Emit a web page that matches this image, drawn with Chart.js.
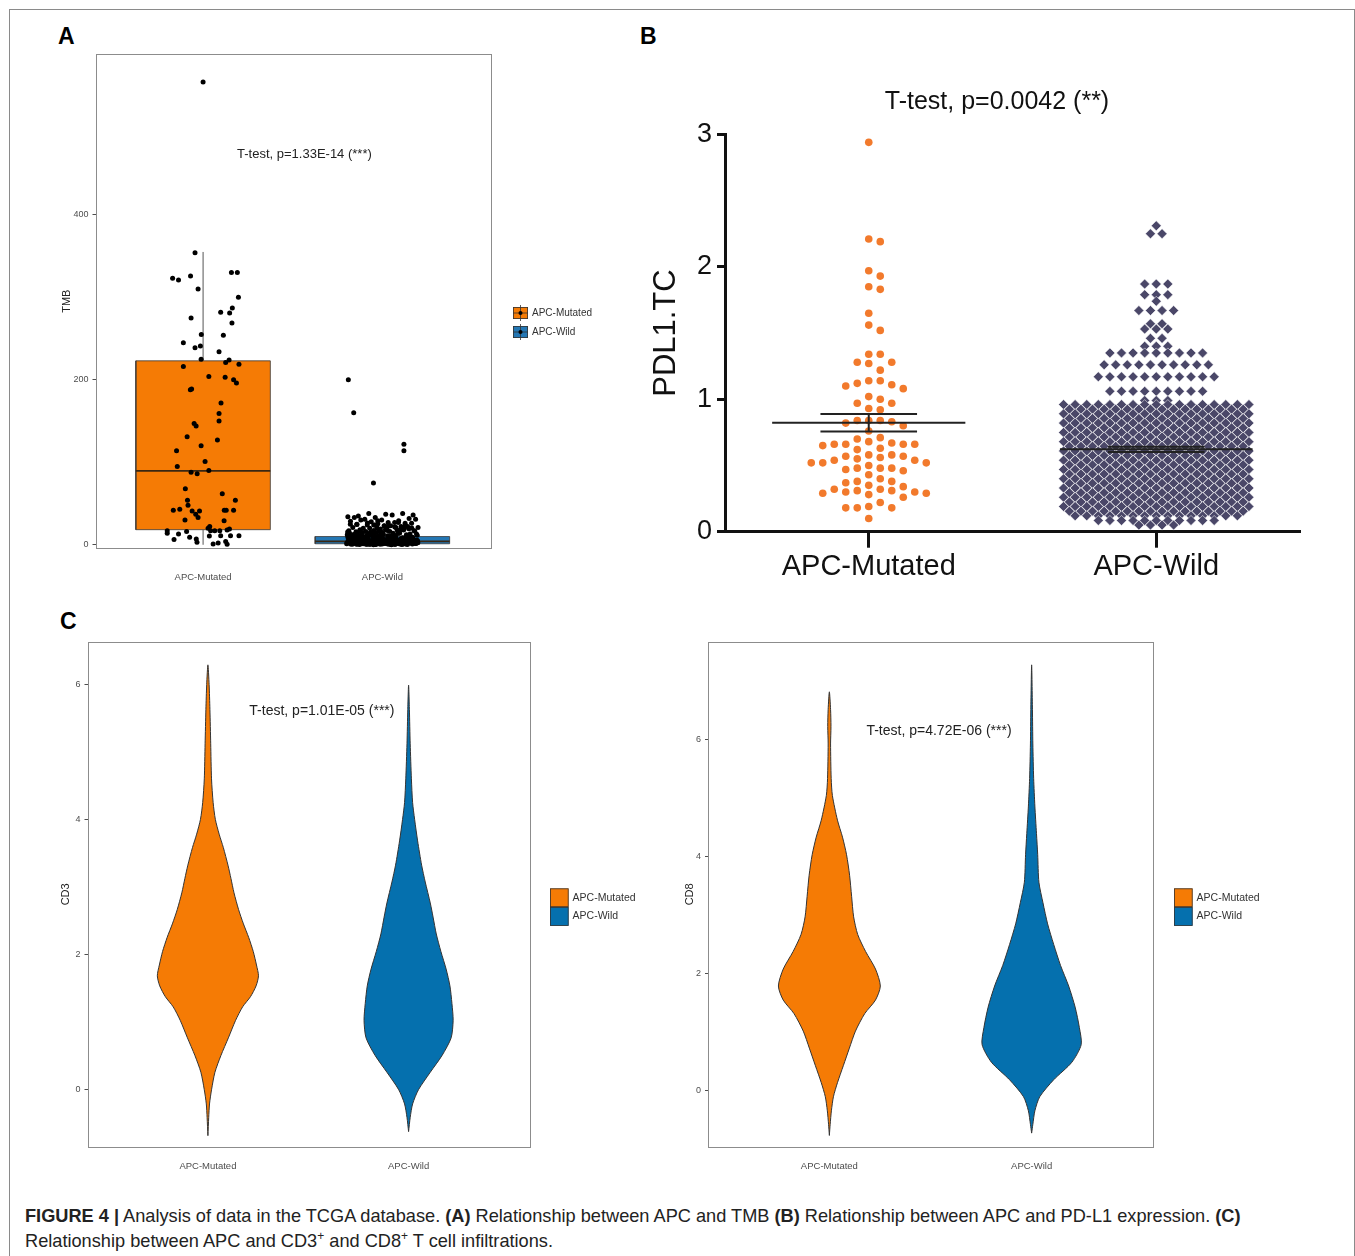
<!DOCTYPE html>
<html>
<head>
<meta charset="utf-8">
<script src="https://cdn.jsdelivr.net/npm/chart.js@4.4.1/dist/chart.umd.min.js"></script>
<style>
  html, body { margin: 0; padding: 0; background: #fff; width: 1355px; height: 1256px; overflow: hidden;
    font-family: "Liberation Sans", Arial, Helvetica, sans-serif; }
  .frame { position: absolute; left: 9px; top: 9px; width: 1346px; height: 1300px; box-sizing: border-box;
    border: 1px solid #8a8a8a; border-bottom: none; }
  canvas { position: absolute; }
  .lett { position: absolute; font-weight: bold; font-size: 23px; line-height: 1; color: #000; }
  .cap { position: absolute; left: 25px; top: 1204px; width: 1320px; font-size: 18.2px; line-height: 25px; color: #222; white-space: nowrap; }
  .cap sup { font-size: 12px; line-height: 0; vertical-align: 7px; }
</style>
</head>
<body>
<div class="frame"></div>
<div class="lett" style="left:58px;top:25px">A</div>
<div class="lett" style="left:640px;top:25px">B</div>
<div class="lett" style="left:60px;top:610px">C</div>

<canvas id="cA" width="580" height="560" style="left:40px;top:40px"></canvas>
<canvas id="cB" width="700" height="560" style="left:620px;top:40px"></canvas>
<canvas id="cC1" width="610" height="560" style="left:40px;top:630px"></canvas>
<canvas id="cC2" width="640" height="560" style="left:660px;top:630px"></canvas>

<div class="cap"><b>FIGURE 4 |</b> Analysis of data in the TCGA database. <b>(A)</b> Relationship between APC and TMB <b>(B)</b> Relationship between APC and PD-L1 expression. <b>(C)</b><br>Relationship between APC and CD3<sup>+</sup> and CD8<sup>+</sup> T cell infiltrations.</div>

<script>
// ---- data ----
const groups = ['APC-Mutated', 'APC-Wild'];

// A: TMB, jittered points as [jitter, value]; box stats [lower, q1, median, q3, upper]
const tmbTicks = [0, 200, 400];
const tmbMutBox = [0, 18.3, 89.6, 223, 355];
const tmbWildBox = [0, 1.2, 4, 10, 24];
const tmbMutPoints = [
  [0, 561], [-0.045, 354], [-0.17, 323], [-0.137, 321], [-0.07, 326], [-0.028, 310], [0.158, 330], [0.191, 330],
  [0.197, 300], [0.163, 287], [0.098, 282], [0.148, 281], [-0.067, 275], [0.161, 269], [-0.01, 255], [0.113, 254],
  [-0.11, 245], [-0.045, 239], [-0.015, 241], [0.089, 234], [-0.011, 225], [0.126, 221], [0.145, 224], [0.2, 219],
  [-0.11, 216], [0.032, 204], [0.123, 203], [0.17, 200], [0.186, 196], [-0.071, 188], [-0.064, 189], [0.1, 172],
  [0.089, 159], [0.089, 150], [-0.05, 147], [-0.039, 144], [-0.089, 131], [0.08, 127], [-0.011, 120], [-0.148, 114],
  [0.011, 101], [-0.144, 95], [0.032, 90], [-0.067, 88], [-0.033, 86], [-0.099, 68], [0.107, 62], [0.18, 54],
  [-0.087, 54], [-0.084, 48], [-0.166, 42], [-0.13, 43], [-0.061, 41], [-0.02, 41], [-0.041, 37], [-0.028, 33],
  [-0.101, 30], [0.118, 42], [0.129, 42], [0.17, 42], [0.117, 29], [0.037, 22], [-0.2, 17], [-0.2, 14],
  [-0.137, 13], [-0.092, 16], [-0.075, 9], [-0.162, 6.5], [-0.038, 7], [-0.034, 3], [0.028, 20], [0.042, 17],
  [0.065, 17], [0.093, 17], [0.134, 18], [0.147, 19], [0.035, 10.5], [0.098, 11], [0.153, 11], [0.2, 11],
  [0.056, 1], [0.084, 2], [0.126, 4], [0.134, 0.7]
];
const tmbWildOutliers = [[-0.19, 200], [-0.16, 160], [0.12, 122], [0.12, 114], [-0.05, 75]];
const tmbWildMass = [
  38, 36, 37, 35, 38, 33, 34, 36, 31, 32, 30, 33, 29, 28, 31, 27, 30, 26, 29, 25,
  27, 24, 26, 23, 25, 22, 24, 21, 23, 20, 22, 19, 21, 18, 20, 17, 19, 16, 18, 15,
  17, 14, 16, 13, 15, 12, 14, 11, 13, 10, 12, 9, 11, 8, 10, 7, 9, 6, 8, 5,
  14, 12, 10, 9, 8, 7, 6, 5, 4, 3, 11, 9, 8, 7, 6, 5, 4, 3, 2, 1,
  7, 6, 5, 4, 3, 2, 1, 0.5, 6, 5, 4, 3, 2, 1, 0.5, 5, 4, 3, 2, 1,
  4.5, 3.5, 2.5, 1.5, 0.8, 4, 3, 2, 1, 0.3, 3.5, 2.5, 1.5, 0.6, 3, 2, 1.2, 0.4, 2.8, 1.8,
  0.9, 2.2, 1.4, 0.7, 1.9, 1.1, 0.2, 1.6, 0.8, 2.4, 1.3, 0.5, 3.2, 2.6, 1.7, 0.9, 4.2, 5.5, 6.5, 7.5,
  12, 16, 9.5, 21, 13.5, 7, 18.5, 11.5, 8.5, 24, 15.5, 10.5, 6.5, 19.5, 13, 9, 27, 14.5, 5.5, 22.5,
  2.1, 3.1, 4.1, 5.1, 1.1, 0.6, 2.6, 3.6, 4.6, 1.6, 0.1, 2.3, 3.3, 1.3, 0.4, 2.9, 3.9, 1.9, 0.7, 4.9,
  6.2, 7.2, 8.2, 9.2, 10.2, 11.2, 6.8, 7.8, 8.8, 9.8, 5.8, 4.8, 3.8, 2.8, 1.8, 0.8, 5.2, 6.6, 7.4, 8.6,
  1.05, 2.05, 3.05, 0.35, 1.45, 2.45, 0.15, 1.75, 2.75, 3.45,
  12.5, 13.8, 15.2, 16.6, 17.4, 18.2, 19.8, 20.6, 14.2, 11.8, 10.8, 9.3, 12.9, 15.9, 17.8, 13.2, 11.4, 16.2, 14.8, 10.4,
  8.1, 7.1, 6.1, 5.3, 4.3, 3.3, 2.3, 1.3, 0.3, 9.1, 8.4, 7.6, 6.4, 5.6, 4.4, 3.6, 2.7, 1.7, 0.9, 9.6,
  23.5, 25.5, 28.5, 21.5, 26.5, 20.2, 22.8, 24.6, 19.2, 17.2
];

// B: PDL1.TC
const pdlTicks = [0, 1, 2, 3];
const pdlMut = [
  2.94, 2.21, 2.19, 1.97, 1.93, 1.85, 1.83, 1.65, 1.56, 1.52, 1.34, 1.34, 1.28, 1.27, 1.28, 1.22,
  1.14, 1.12, 1.10, 1.11, 1.08, 1.14, 1.02, 0.97, 1.00, 0.97, 0.92, 0.93, 0.84, 0.82, 0.84, 0.83,
  0.84, 0.80, 0.76, 0.70, 0.67, 0.68, 0.71, 0.66, 0.65, 0.63, 0.66, 0.66, 0.66, 0.62, 0.56, 0.54,
  0.52, 0.58, 0.57, 0.57, 0.58, 0.50, 0.52, 0.54, 0.55, 0.47, 0.52, 0.48, 0.48, 0.48, 0.46, 0.43,
  0.38, 0.38, 0.40, 0.35, 0.32, 0.31, 0.30, 0.29, 0.28, 0.29, 0.26, 0.30, 0.31, 0.32, 0.34, 0.37,
  0.22, 0.18, 0.19, 0.18, 0.18, 0.10
];
// wild group: rows of the swarm as [value, number of points]
const pdlWildRows = [
  [2.31, 1], [2.25, 2], [1.87, 3], [1.79, 3], [1.74, 1], [1.67, 4], [1.57, 2], [1.53, 3], [1.46, 2], [1.40, 3],
  [1.35, 9], [1.26, 10], [1.17, 11], [1.06, 9], [0.99, 3],
  [0.96, 17], [0.925, 16], [0.89, 17], [0.855, 16], [0.82, 17], [0.785, 16], [0.75, 17], [0.715, 16],
  [0.68, 17], [0.645, 16], [0.61, 17], [0.575, 16], [0.54, 17], [0.505, 16], [0.47, 17], [0.435, 16],
  [0.40, 17], [0.365, 16], [0.33, 17], [0.295, 16], [0.26, 17], [0.225, 16], [0.19, 17], [0.155, 16],
  [0.12, 15], [0.085, 11], [0.05, 4]
];
const pdlMutMean = 0.823, pdlMutSem = 0.066;
const pdlWildMean = 0.622, pdlWildSem = 0.02;

// C: violin outlines, levels (bottom to top) and half widths in category units
const cdTicks = [0, 2, 4, 6];
const cd3MutLevels = [-0.69, -0.42, -0.22, -0.01, 0.25, 0.5, 0.76, 1.02, 1.22, 1.37, 1.53, 1.68, 1.84, 2.04, 2.25, 2.45, 2.66, 2.91, 3.12, 3.32, 3.58, 3.78, 4.0, 4.25, 4.6, 5.12, 5.63, 6.0, 6.29];
const cd3MutWidth  = [0, 0.004, 0.008, 0.018, 0.035, 0.065, 0.102, 0.138, 0.173, 0.212, 0.24, 0.252, 0.242, 0.226, 0.203, 0.177, 0.153, 0.13, 0.115, 0.1, 0.077, 0.056, 0.037, 0.026, 0.018, 0.014, 0.01, 0.006, 0];
const cd3WildLevels = [-0.63, -0.42, -0.22, -0.01, 0.25, 0.5, 0.76, 1.02, 1.27, 1.53, 1.78, 2.04, 2.3, 2.55, 2.76, 3.07, 3.32, 3.68, 4.0, 4.25, 4.6, 5.12, 5.63, 5.99];
const cd3WildWidth  = [0, 0.008, 0.02, 0.049, 0.108, 0.167, 0.212, 0.222, 0.216, 0.206, 0.187, 0.161, 0.138, 0.122, 0.108, 0.083, 0.065, 0.045, 0.03, 0.02, 0.014, 0.008, 0.004, 0];
const cd8MutLevels = [-0.76, -0.57, -0.34, -0.1, 0.14, 0.43, 0.73, 1.02, 1.32, 1.55, 1.79, 2.08, 2.38, 2.67, 2.97, 3.32, 3.68, 4.03, 4.33, 4.62, 5.04, 5.33, 5.92, 6.22, 6.51, 6.81];
const cd8MutWidth  = [0, 0.004, 0.01, 0.02, 0.04, 0.069, 0.099, 0.129, 0.175, 0.228, 0.252, 0.228, 0.179, 0.14, 0.12, 0.11, 0.1, 0.085, 0.065, 0.04, 0.015, 0.009, 0.006, 0.008, 0.006, 0];
const cd8WildLevels = [-0.72, -0.57, -0.34, -0.1, 0.19, 0.49, 0.79, 1.08, 1.43, 1.79, 2.14, 2.5, 2.85, 3.21, 3.56, 4.03, 4.39, 4.86, 5.33, 5.92, 6.51, 7.27];
const cd8WildWidth  = [0, 0.006, 0.016, 0.04, 0.109, 0.199, 0.245, 0.236, 0.215, 0.183, 0.143, 0.109, 0.079, 0.056, 0.036, 0.03, 0.024, 0.016, 0.01, 0.006, 0.004, 0];

const stats = {
  tmb: 'T-test, p=1.33E-14 (***)',
  pdl: 'T-test, p=0.0042 (**)',
  cd3: 'T-test, p=1.01E-05 (***)',
  cd8: 'T-test, p=4.72E-06 (***)'
};

// ---- styling ----
const FONT = '"Liberation Sans", Arial, Helvetica, sans-serif';
Chart.defaults.font.family = FONT;
const orange = '#f57b05', blue = '#0570ae', boxBlue = '#2477b4';
const ptOrange = '#f27a2c', ptSlate = '#4a4768';
const axisGray = '#4d4d4d';

// ---- small plugins ----
const framePlugin = {
  id: 'frame',
  afterDraw(chart, args, o) {
    if (!o.color) return;
    const { ctx, chartArea: a } = chart;
    ctx.save();
    ctx.strokeStyle = o.color;
    ctx.lineWidth = 1;
    ctx.strokeRect(Math.round(a.left) + 0.5, Math.round(a.top) + 0.5, Math.round(a.right - a.left), Math.round(a.bottom - a.top));
    ctx.restore();
  }
};

const statTextPlugin = {
  id: 'statText',
  afterDraw(chart, args, o) {
    if (!o.text) return;
    const { ctx, scales } = chart;
    ctx.save();
    ctx.font = o.size + 'px ' + FONT;
    ctx.fillStyle = o.color;
    ctx.textAlign = 'center';
    ctx.textBaseline = 'middle';
    ctx.fillText(o.text, scales.x.getPixelForValue(o.x), scales.y.getPixelForValue(o.y));
    ctx.restore();
  }
};

const keyLegendPlugin = {
  id: 'keyLegend',
  afterDraw(chart, args, o) {
    if (!o.labels) return;
    const { ctx, chartArea: a } = chart;
    ctx.save();
    ctx.font = o.size + 'px ' + FONT;
    ctx.textBaseline = 'middle';
    ctx.textAlign = 'left';
    o.labels.forEach((label, i) => {
      const x = a.right + o.dx, y = a.top + o.dy + i * o.pitch;
      ctx.fillStyle = o.colors[i];
      ctx.fillRect(x, y, o.w, o.h);
      ctx.strokeStyle = '#333';
      ctx.lineWidth = 0.8;
      ctx.strokeRect(x + 0.4, y + 0.4, o.w - 0.8, o.h - 0.8);
      if (o.boxGlyph) {
        ctx.beginPath();
        ctx.moveTo(x + o.w / 2, y - 2); ctx.lineTo(x + o.w / 2, y + o.h + 2);
        ctx.moveTo(x, y + o.h / 2); ctx.lineTo(x + o.w, y + o.h / 2);
        ctx.stroke();
        ctx.fillStyle = '#000';
        ctx.beginPath(); ctx.arc(x + o.w / 2, y + o.h / 2, 2, 0, Math.PI * 2); ctx.fill();
      }
      ctx.fillStyle = o.textColor;
      ctx.fillText(label, x + o.w + o.gap, y + o.h / 2);
    });
    ctx.restore();
  }
};

// ---- helpers ----
const setTicks = vals => axis => { axis.ticks = vals.map(v => ({ value: v })); };
const groupLabel = v => groups[Math.round(v) - 1];

function seg(points, color, width, order) {
  return { data: points, showLine: true, borderColor: color, borderWidth: width, pointRadius: 0, fill: false, order };
}

function boxDatasets(center, s, fillColor) {
  const [lo, q1, med, q3, hi] = s, hw = 0.375;
  return [
    { data: [{ x: center - hw, y: q1 }, { x: center + hw, y: q1 }, { x: center + hw, y: q3 }, { x: center - hw, y: q3 }, { x: center - hw, y: q1 }],
      showLine: true, fill: 'shape', backgroundColor: fillColor, borderColor: '#3a3a3a', borderWidth: 0.8, pointRadius: 0, order: 3 },
    seg([{ x: center, y: q3 }, { x: center, y: hi }], '#555', 1, 2),
    seg([{ x: center, y: lo }, { x: center, y: q1 }], '#555', 1, 2),
    seg([{ x: center - hw, y: med }, { x: center + hw, y: med }], '#3a2712', 1.8, 1)
  ];
}

function violin(center, levels, widths, color) {
  const right = levels.map((y, i) => ({ x: center + widths[i], y }));
  const left = levels.map((y, i) => ({ x: center - widths[i], y })).reverse();
  return { data: right.concat(left.slice(1)), showLine: true, fill: 'shape', backgroundColor: color,
    borderColor: '#333', borderWidth: 1, pointRadius: 0, tension: 0.25 };
}

// simple beeswarm: column offsets so that dots in one column do not touch
function beeswarm(values, minGap, colW) {
  const sorted = values.slice().sort((a, b) => b - a);
  const placed = [];
  sorted.forEach(v => {
    for (let n = 0; n < 40; n++) {
      const k = n === 0 ? 0 : (n % 2 ? (n + 1) / 2 : -n / 2);
      if (!placed.some(p => p.k === k && Math.abs(p.v - v) < minGap)) { placed.push({ k, v }); break; }
    }
  });
  return placed.map(p => ({ x: 1 + p.k * colW, y: p.v }));
}

function rowSwarm(rows, center, colW) {
  const pts = [];
  rows.forEach(([v, n]) => {
    for (let i = 0; i < n; i++) pts.push({ x: center + (i - (n - 1) / 2) * colW, y: v });
  });
  return pts;
}

// ggplot-like jitter spread for the dense wild TMB cloud (low-discrepancy, width 0.2)
const jitter = i => ((i * 0.6180339887 + 0.31) % 1) * 0.4 - 0.2;

function ggAxisX(pad) {
  return {
    type: 'linear', min: 0.4, max: 2.6,
    afterBuildTicks: setTicks([1, 2]),
    ticks: { callback: groupLabel, font: { size: 9.5 }, color: axisGray, padding: pad, autoSkip: false, maxRotation: 0 },
    grid: { display: false, drawTicks: false },
    border: { display: false },
    afterFit: s => { s.height = 35; }
  };
}

function ggAxisY(min, max, ticks, title, titlePad, width) {
  return {
    min, max,
    afterBuildTicks: setTicks(ticks),
    ticks: { font: { size: 9 }, color: axisGray, padding: 4 },
    grid: { drawOnChartArea: false, drawTicks: true, tickLength: 3, color: axisGray },
    border: { display: false },
    title: { display: true, text: title, font: { size: 11 }, color: '#222', padding: { top: titlePad, bottom: 0 } },
    afterFit: s => { s.width = width; }
  };
}

const common = { responsive: false, animation: false, events: [] };

// ---- A ----
const dot = { showLine: false, pointRadius: 2.5, pointBackgroundColor: '#000', pointBorderWidth: 0, order: 0 };
new Chart(document.getElementById('cA'), {
  type: 'line',
  data: {
    datasets: [
      { ...dot, data: tmbMutPoints.map(([dx, v]) => ({ x: 1 + dx, y: v })) },
      { ...dot, data: tmbWildOutliers.map(([dx, v]) => ({ x: 2 + dx, y: v })) },
      { ...dot, data: tmbWildMass.map((v, i) => ({ x: 2 + jitter(i), y: v })) },
      ...boxDatasets(1, tmbMutBox, orange),
      ...boxDatasets(2, tmbWildBox, boxBlue)
    ]
  },
  options: {
    ...common,
    layout: { padding: { left: 0, right: 130, top: 14, bottom: 16.6 } },
    plugins: {
      legend: { display: false }, tooltip: { enabled: false },
      frame: { color: '#8c8c8c' },
      statText: { text: stats.tmb, x: 1.565, y: 473.5, size: 13, color: '#222' },
      keyLegend: { labels: groups, colors: [orange, boxBlue], boxGlyph: true, dx: 23, dy: 253, w: 15, h: 12, pitch: 19, gap: 4, size: 10, textColor: '#333' }
    },
    scales: {
      x: ggAxisX(23),
      y: ggAxisY(-4.4, 595, tmbTicks, 'TMB', 20.4, 55.5)
    }
  },
  plugins: [framePlugin, statTextPlugin, keyLegendPlugin]
});

// ---- B ----
const bSolid = '#111';
new Chart(document.getElementById('cB'), {
  type: 'line',
  data: {
    datasets: [
      seg([{ x: 1 - 0.336, y: pdlMutMean }, { x: 1 + 0.336, y: pdlMutMean }], '#222', 2, 0),
      seg([{ x: 1 - 0.168, y: pdlMutMean + pdlMutSem }, { x: 1 + 0.168, y: pdlMutMean + pdlMutSem }], '#222', 2, 0),
      seg([{ x: 1 - 0.168, y: pdlMutMean - pdlMutSem }, { x: 1 + 0.168, y: pdlMutMean - pdlMutSem }], '#222', 2, 0),
      seg([{ x: 1, y: pdlMutMean - pdlMutSem }, { x: 1, y: pdlMutMean + pdlMutSem }], '#222', 2, 0),
      seg([{ x: 2 - 0.335, y: pdlWildMean }, { x: 2 + 0.335, y: pdlWildMean }], '#222', 2, 0),
      seg([{ x: 2 - 0.168, y: pdlWildMean + pdlWildSem }, { x: 2 + 0.168, y: pdlWildMean + pdlWildSem }], '#222', 2, 0),
      seg([{ x: 2 - 0.168, y: pdlWildMean - pdlWildSem }, { x: 2 + 0.168, y: pdlWildMean - pdlWildSem }], '#222', 2, 0),
      { data: beeswarm(pdlMut, 0.062, 0.04), showLine: false, pointStyle: 'circle', pointRadius: 3.8,
        pointBackgroundColor: ptOrange, pointBorderWidth: 0, order: 1, clip: false },
      { data: rowSwarm(pdlWildRows, 2, 0.0403), showLine: false, pointStyle: 'rectRot', pointRadius: 5,
        pointBackgroundColor: ptSlate, pointBorderColor: 'rgba(255,255,255,0.75)', pointBorderWidth: 0.7, order: 1, clip: false }
    ]
  },
  options: {
    ...common,
    layout: { padding: { left: 0, right: 20, top: 94.4, bottom: 13.3 } },
    plugins: {
      legend: { display: false }, tooltip: { enabled: false },
      statText: { text: stats.pdl, x: 1.446, y: 3.247, size: 25, color: bSolid }
    },
    scales: {
      x: {
        type: 'linear', min: 0.5, max: 2.5,
        afterBuildTicks: setTicks([1, 2]),
        ticks: { callback: groupLabel, font: { size: 29 }, color: bSolid, padding: 2, autoSkip: false, maxRotation: 0 },
        grid: { drawOnChartArea: false, drawTicks: true, tickLength: 16, tickWidth: 3, color: bSolid },
        border: { display: true, width: 3, color: bSolid },
        afterFit: s => { s.height = 55; }
      },
      y: {
        min: 0, max: 3,
        afterBuildTicks: setTicks(pdlTicks),
        ticks: { font: { size: 27 }, color: bSolid, padding: 5 },
        grid: { drawOnChartArea: false, drawTicks: true, tickLength: 8, tickWidth: 3, color: bSolid },
        border: { display: true, width: 3, color: bSolid },
        title: { display: true, text: 'PDL1.TC', font: { size: 31 }, color: bSolid, padding: { top: 27.4, bottom: 0 } },
        afterFit: s => { s.width = 105; }
      }
    }
  },
  plugins: [statTextPlugin]
});

// ---- C ----
function violinChart(id, mut, wild, yMin, yMax, title, titlePad, yWidth, padRight, text, tx, ty) {
  new Chart(document.getElementById(id), {
    type: 'line',
    data: { datasets: [violin(1, mut[0], mut[1], orange), violin(2, wild[0], wild[1], blue)] },
    options: {
      ...common,
      layout: { padding: { left: 0, right: padRight, top: 11.7, bottom: 8 } },
      plugins: {
        legend: { display: false }, tooltip: { enabled: false },
        frame: { color: '#8c8c8c' },
        statText: { text, x: tx, y: ty, size: 14, color: '#222' },
        keyLegend: { labels: groups, colors: [orange, blue], boxGlyph: false, dx: 21, dy: 246.7, w: 18.6, h: 18.7, pitch: 18.7, gap: 4, size: 10.5, textColor: '#333' }
      },
      scales: { x: ggAxisX(13.5), y: ggAxisY(yMin, yMax, cdTicks, title, titlePad, yWidth) }
    },
    plugins: [framePlugin, statTextPlugin, keyLegendPlugin]
  });
}

violinChart('cC1', [cd3MutLevels, cd3MutWidth], [cd3WildLevels, cd3WildWidth], -0.858, 6.633, 'CD3', 19.2, 47.5, 121, stats.cd3, 1.568, 5.606);
violinChart('cC2', [cd8MutLevels, cd8MutWidth], [cd8WildLevels, cd8WildWidth], -0.957, 7.665, 'CD8', 23.4, 48, 147, stats.cd8, 1.542, 6.147);
</script>
</body>
</html>
